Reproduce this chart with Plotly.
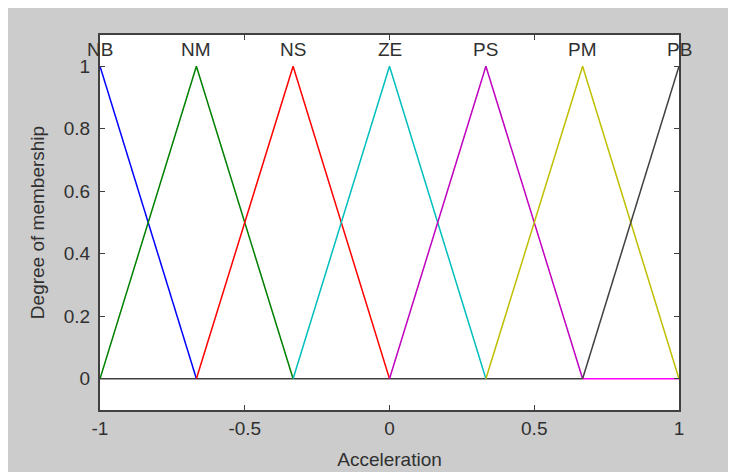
import plotly.graph_objects as go

# Membership functions (triangular): names, break points, membership values
names = ["NB", "NM", "NS", "ZE", "PS", "PM", "PB"]
mf_x = [
    [-1.0, -0.667],
    [-1.0, -0.667, -0.333],
    [-0.667, -0.333, 0.0],
    [-0.333, 0.0, 0.333],
    [0.0, 0.333, 0.667],
    [0.333, 0.667, 1.0],
    [0.667, 1.0],
]
mf_y = [
    [1, 0],
    [0, 1, 0],
    [0, 1, 0],
    [0, 1, 0],
    [0, 1, 0],
    [0, 1, 0],
    [0, 1],
]
peaks = [-1.0, -0.667, -0.333, 0.0, 0.333, 0.667, 1.0]
colors = ["#0000ff", "#008000", "#ff0000", "#00bfbf", "#bf00bf", "#bfbf00", "#404040"]

# zero-membership baseline segments (as drawn by the original)
zero_x = [[-1.0, 0.667], [0.667, 1.0]]
zero_y = [[0, 0], [0, 0]]
zero_colors = ["#404040", "#ff00ff"]

x_ticks = [-1, -0.5, 0, 0.5, 1]
x_ticklabels = ["-1", "-0.5", "0", "0.5", "1"]
y_ticks = [0, 0.2, 0.4, 0.6, 0.8, 1]
y_ticklabels = ["0", "0.2", "0.4", "0.6", "0.8", "1"]

FONT = "Liberation Sans, Arial, sans-serif"
font_col = "#303030"

fig = go.Figure()
for zx, zy, c in zip(zero_x, zero_y, zero_colors):
    fig.add_trace(go.Scatter(x=zx, y=zy, mode="lines", line=dict(color=c, width=1.5),
                             hoverinfo="skip", showlegend=False))
for n, xs, ys, c in zip(names, mf_x, mf_y, colors):
    fig.add_trace(go.Scatter(x=xs, y=ys, mode="lines", name=n,
                             line=dict(color=c, width=1.5), showlegend=False))

for n, p in zip(names, peaks):
    fig.add_annotation(x=p, y=1.0, xref="x", yref="y", text=n, showarrow=False,
                       yshift=17, font=dict(size=19, color=font_col, family=FONT))

axis_common = dict(showline=True, linecolor="#404040", linewidth=2, mirror="ticks",
                   ticks="inside", ticklen=5, tickcolor="#404040", tickwidth=1,
                   showgrid=False, zeroline=False, automargin=False,
                   tickfont=dict(size=19, color=font_col, family=FONT))

fig.update_layout(
    width=728, height=464,
    margin=dict(l=92, r=57, t=27, b=62),
    paper_bgcolor="#cccccc", plot_bgcolor="white",
    font=dict(family=FONT, color=font_col),
    xaxis=dict(range=[-1, 1], tickvals=x_ticks, ticktext=x_ticklabels,
               ticklabelstandoff=0,
               title=dict(text="Acceleration", font=dict(size=19, color=font_col), standoff=15),
               **axis_common),
    yaxis=dict(range=[-0.1, 1.1], tickvals=y_ticks, ticktext=y_ticklabels,
               ticklabelstandoff=4,
               title=dict(text="Degree of membership", font=dict(size=19, color=font_col), standoff=14),
               **axis_common),
)

fig.write_html("out.html")
